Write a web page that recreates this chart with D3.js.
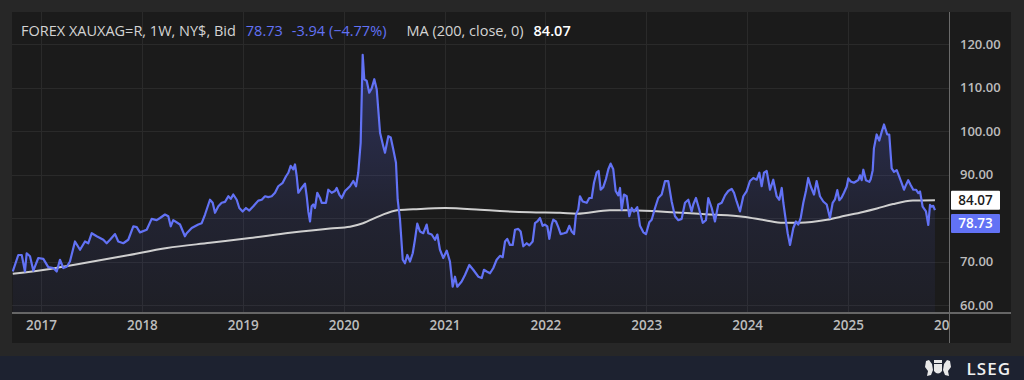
<!DOCTYPE html>
<html><head><meta charset="utf-8">
<script src="https://cdn.jsdelivr.net/npm/d3@7"></script>
<style>html,body{margin:0;padding:0;background:#272727;}svg{display:block;}</style>
</head><body>
<svg id="chart" width="1024" height="380"></svg>
<script>
// ---- DATA (decimal-year time, weekly XAU/XAG ratio) ----
const priceTime = [2016.720,2016.775,2016.809,2016.841,2016.858,2016.891,2016.924,2016.973,2017.023,2017.072,2017.122,2017.156,2017.188,2017.221,2017.255,2017.287,2017.337,2017.387,2017.436,2017.469,2017.503,2017.552,2017.618,2017.651,2017.684,2017.734,2017.766,2017.816,2017.865,2017.915,2017.949,2017.981,2018.048,2018.097,2018.147,2018.180,2018.229,2018.262,2018.286,2018.311,2018.378,2018.427,2018.444,2018.494,2018.559,2018.593,2018.626,2018.675,2018.702,2018.725,2018.758,2018.791,2018.824,2018.857,2018.881,2018.906,2018.940,2018.966,2018.999,2019.032,2019.065,2019.105,2019.154,2019.188,2019.221,2019.253,2019.287,2019.320,2019.352,2019.396,2019.429,2019.452,2019.475,2019.501,2019.518,2019.535,2019.551,2019.584,2019.617,2019.634,2019.650,2019.667,2019.683,2019.699,2019.716,2019.739,2019.766,2019.783,2019.825,2019.848,2019.882,2019.914,2019.931,2019.957,2019.981,2020.014,2020.063,2020.096,2020.123,2020.145,2020.169,2020.189,2020.205,2020.229,2020.254,2020.278,2020.304,2020.328,2020.361,2020.393,2020.410,2020.443,2020.467,2020.492,2020.519,2020.536,2020.559,2020.586,2020.608,2020.631,2020.658,2020.685,2020.707,2020.730,2020.757,2020.790,2020.823,2020.839,2020.873,2020.906,2020.929,2020.955,2020.988,2021.022,2021.054,2021.081,2021.104,2021.127,2021.170,2021.203,2021.246,2021.285,2021.335,2021.369,2021.391,2021.418,2021.451,2021.484,2021.517,2021.550,2021.577,2021.600,2021.622,2021.649,2021.676,2021.699,2021.731,2021.755,2021.781,2021.815,2021.841,2021.874,2021.897,2021.920,2021.947,2021.973,2021.996,2022.019,2022.039,2022.063,2022.078,2022.105,2022.128,2022.152,2022.184,2022.211,2022.237,2022.261,2022.284,2022.303,2022.326,2022.343,2022.370,2022.410,2022.435,2022.459,2022.482,2022.509,2022.528,2022.548,2022.574,2022.601,2022.624,2022.647,2022.673,2022.697,2022.723,2022.740,2022.756,2022.779,2022.806,2022.832,2022.856,2022.878,2022.911,2022.938,2022.971,2022.997,2023.030,2023.054,2023.087,2023.119,2023.153,2023.186,2023.218,2023.252,2023.285,2023.318,2023.351,2023.384,2023.417,2023.450,2023.466,2023.493,2023.526,2023.560,2023.592,2023.615,2023.649,2023.681,2023.714,2023.748,2023.781,2023.813,2023.847,2023.870,2023.896,2023.929,2023.962,2023.996,2024.028,2024.061,2024.095,2024.121,2024.144,2024.167,2024.194,2024.227,2024.259,2024.293,2024.319,2024.343,2024.359,2024.385,2024.402,2024.425,2024.458,2024.484,2024.507,2024.531,2024.557,2024.583,2024.606,2024.630,2024.663,2024.689,2024.722,2024.755,2024.789,2024.821,2024.848,2024.871,2024.894,2024.914,2024.937,2024.960,2024.987,2025.003,2025.027,2025.059,2025.086,2025.102,2025.119,2025.136,2025.152,2025.178,2025.211,2025.225,2025.245,2025.257,2025.284,2025.310,2025.334,2025.357,2025.389,2025.409,2025.433,2025.456,2025.483,2025.508,2025.532,2025.555,2025.575,2025.597,2025.621,2025.647,2025.674,2025.697,2025.714,2025.740,2025.773,2025.796,2025.813,2025.830,2025.845,2025.862];
const priceValue = [67.7,71.5,71.5,67.7,71.9,71.2,67.9,70.8,70.6,68.7,68.5,67.7,70.4,68.5,68.8,70.0,74.6,72.7,74.6,74.2,76.5,75.8,75.0,74.2,75.0,76.3,74.6,74.2,75.0,78.1,77.9,76.7,77.3,79.8,79.5,80.0,80.8,80.4,78.1,79.5,78.5,75.8,76.5,77.7,78.5,78.8,80.8,84.2,83.5,81.2,82.7,83.5,83.7,85.0,84.4,85.4,84.2,82.3,81.5,82.3,81.7,82.7,84.0,84.2,85.0,84.8,85.0,85.8,87.3,88.1,89.6,90.4,92.0,91.2,92.3,89.6,85.8,86.9,87.9,85.0,81.5,79.2,82.7,83.1,82.3,85.8,84.6,83.5,83.5,86.5,85.8,86.2,86.9,85.4,84.6,86.2,87.3,88.5,87.3,90.4,97.3,117.5,111.9,111.5,108.8,109.8,111.9,109.6,99.6,96.5,95.0,98.8,98.5,95.8,92.7,84.2,79.6,70.4,69.6,71.5,70.0,71.9,75.0,78.7,76.9,76.5,78.5,76.5,76.2,75.0,76.2,72.7,70.8,72.5,70.0,64.2,66.5,64.2,65.4,66.9,69.2,68.1,66.5,66.2,68.1,67.7,67.3,68.5,70.4,71.3,71.0,74.6,75.2,73.8,73.8,77.3,77.5,76.9,73.5,74.2,73.7,74.6,78.8,79.2,80.0,78.2,78.5,78.1,75.2,78.5,79.6,79.2,77.9,76.3,76.5,76.7,78.2,76.9,76.3,80.7,82.0,85.0,83.8,83.5,84.6,84.6,88.1,90.5,90.8,86.5,87.1,89.0,91.2,92.5,91.2,86.2,85.2,86.9,81.9,85.4,85.0,80.4,82.3,81.5,82.5,78.2,76.7,76.3,79.0,79.6,82.3,84.6,85.4,88.5,88.5,83.8,80.4,79.5,79.8,83.5,84.2,81.5,83.1,84.6,81.9,78.9,79.5,84.6,82.3,79.2,83.1,83.5,85.2,86.2,86.7,85.8,83.8,81.5,85.0,86.2,88.5,89.2,88.8,90.4,87.3,90.4,90.8,86.5,88.8,85.0,84.2,86.9,83.5,79.2,76.5,73.8,77.7,79.2,78.5,80.0,83.5,86.2,89.2,87.3,85.4,88.5,85.0,83.8,83.1,80.0,83.5,84.3,86.4,84.1,84.7,85.8,87.2,89.1,88.4,88.1,88.5,88.7,89.8,88.7,91.1,88.7,88.3,88.9,91.0,96.0,99.2,97.8,99.8,101.5,99.2,99.2,91.4,90.6,91.0,89.5,88.0,86.5,87.6,88.7,87.6,86.5,86.5,85.7,86.1,82.6,81.5,78.4,83.0,82.6,82.8,81.8,78.73];
const maTime = [2016.720,2017.089,2017.416,2017.833,2018.249,2018.675,2019.072,2019.468,2019.865,2020.063,2020.192,2020.361,2020.529,2020.688,2021.005,2021.352,2021.550,2021.847,2022.145,2022.313,2022.640,2022.809,2023.136,2023.632,2023.959,2024.177,2024.355,2024.524,2024.792,2024.970,2025.148,2025.287,2025.446,2025.644,2025.862];
const maValue = [67.2,68.3,69.6,71.3,73.1,74.3,75.4,76.6,77.6,78.0,78.8,80.5,81.8,82.0,82.3,81.9,81.6,81.3,81.2,81.0,81.8,81.8,81.5,80.8,80.3,79.5,78.9,78.9,79.6,80.5,81.4,82.2,83.2,84.0,84.07];
const yTicks = [60,70,80,90,100,110,120];
const xTickYears = [2017,2018,2019,2020,2021,2022,2023,2024,2025,2026];
const legendTitle = "FOREX XAUXAG=R, 1W, NY$, Bid";
const lastValue = "78.73";
const lastChange = "-3.94 (\u22124.77%)";
const maLabel = "MA (200, close, 0)";
const maLast = "84.07";

// ---- LAYOUT ----
const svg = d3.select("#chart");
const P = {left:12, top:12, right:1011, bottom:343, plotRight:949.5, axisY:313};
const x = d3.scaleLinear().domain([2017, 2025]).range([41, 848]);
const y = d3.scaleLinear().domain([60, 120]).range([305, 44]);
const BLUE = "#6272f5";
const FONT = "'Open Sans', 'Noto Sans', sans-serif";

svg.append("rect").attr("width",1024).attr("height",380).attr("fill","#272727");
svg.append("rect").attr("x",P.left).attr("y",P.top).attr("width",P.right-P.left).attr("height",P.bottom-P.top).attr("fill","#1b1b1b");
svg.append("rect").attr("x",0).attr("y",356).attr("width",1024).attr("height",24).attr("fill","#1d2230");

const defs = svg.append("defs");
defs.append("clipPath").attr("id","plotClip").append("rect")
  .attr("x",P.left).attr("y",P.top).attr("width",P.plotRight-P.left).attr("height",P.axisY-P.top);
defs.append("clipPath").attr("id","xlabClip").append("rect")
  .attr("x",P.left).attr("y",P.axisY).attr("width",P.plotRight-P.left).attr("height",P.bottom-P.axisY);
const grad = defs.append("linearGradient").attr("id","areaGrad")
  .attr("gradientUnits","userSpaceOnUse").attr("x1",0).attr("x2",0).attr("y1",y(118)).attr("y2",P.axisY);
grad.append("stop").attr("offset","0%").attr("stop-color","#5a68f0").attr("stop-opacity",0.30);
grad.append("stop").attr("offset","60%").attr("stop-color","#5a68f0").attr("stop-opacity",0.11);
grad.append("stop").attr("offset","100%").attr("stop-color","#5a68f0").attr("stop-opacity",0.05);

// gridlines
const grid = svg.append("g").attr("stroke","#2a2a2a").attr("stroke-width",1);
grid.selectAll("line.v").data(xTickYears.slice(0,-1)).join("line")
  .attr("x1",d=>Math.round(x(d))+0.5).attr("x2",d=>Math.round(x(d))+0.5)
  .attr("y1",P.top).attr("y2",P.axisY);
grid.selectAll("line.h").data(yTicks).join("line")
  .attr("x1",P.left).attr("x2",P.plotRight)
  .attr("y1",d=>Math.round(y(d))+0.5).attr("y2",d=>Math.round(y(d))+0.5);

const pts = priceTime.map((t,i)=>({t, v:priceValue[i]}));
const maPts = maTime.map((t,i)=>({t, v:maValue[i]}));
const plot = svg.append("g").attr("clip-path","url(#plotClip)");
plot.append("path").datum(pts)
  .attr("d", d3.area().x(d=>x(d.t)).y0(P.axisY).y1(d=>y(d.v)))
  .attr("fill","url(#areaGrad)");
plot.append("path").datum(maPts)
  .attr("d", d3.line().x(d=>x(d.t)).y(d=>y(d.v)).curve(d3.curveMonotoneX))
  .attr("fill","none").attr("stroke","#cfcfcf").attr("stroke-width",2);
plot.append("path").datum(pts)
  .attr("d", d3.line().x(d=>x(d.t)).y(d=>y(d.v)))
  .attr("fill","none").attr("stroke",BLUE).attr("stroke-width",2.2).attr("stroke-linejoin","round");

// axis lines
svg.append("line").attr("x1",P.left).attr("x2",P.right).attr("y1",P.axisY).attr("y2",P.axisY)
  .attr("stroke","#666666").attr("stroke-width",2);
svg.append("line").attr("x1",P.plotRight).attr("x2",P.plotRight).attr("y1",P.top).attr("y2",P.bottom)
  .attr("stroke","#6a6a6a").attr("stroke-width",1);

// right axis labels (the 80.00 label sits under the value tags in the original, so it is not drawn)
const yLabelTicks = yTicks.filter(v => Math.abs(y(v) - y(+lastValue)) > 12 && Math.abs(y(v) - y(+maLast)) > 12);
const yAxis = d3.axisRight(y).tickValues(yLabelTicks).tickFormat(d3.format(".2f")).tickSize(0).tickPadding(0);
const ya = svg.append("g").attr("transform","translate(960,0)").call(yAxis);
ya.select(".domain").remove();
ya.selectAll("text").attr("fill","#bdbdbd").attr("font-family",FONT).attr("font-size",13).attr("font-weight",600);

// x axis labels
const xAxis = d3.axisBottom(x).tickValues(xTickYears).tickFormat(d3.format("d")).tickSize(0).tickPadding(0);
const xa = svg.append("g").attr("clip-path","url(#xlabClip)").append("g").attr("transform","translate(0,320)").call(xAxis);
xa.select(".domain").remove();
xa.selectAll("text").attr("fill","#bdbdbd").attr("font-family",FONT).attr("font-size",13.5).attr("font-weight",600);

// value tags
function tag(val, bg, fg){
  const cy = y(+val);
  svg.append("rect").attr("x",951).attr("y",cy-9.5).attr("width",49).attr("height",19).attr("fill",bg).attr("rx",1);
  svg.append("text").attr("x",975.5).attr("y",cy).attr("dy","0.36em").attr("text-anchor","middle")
    .attr("fill",fg).attr("font-family",FONT).attr("font-size",13.5).attr("font-weight",600).text(val);
}
tag(maLast, "#ffffff", "#1b1b1b");
tag(lastValue, BLUE, "#ffffff");

// legend
const lg = svg.append("text").attr("x",21).attr("y",36).attr("font-family",FONT).attr("font-size",14.5);
lg.append("tspan").attr("fill","#d4d4d4").text(legendTitle);
lg.append("tspan").attr("dx",10).attr("fill",BLUE).text(lastValue);
lg.append("tspan").attr("dx",9).attr("fill",BLUE).text(lastChange);
lg.append("tspan").attr("dx",20).attr("fill","#d4d4d4").text(maLabel);
lg.append("tspan").attr("dx",10).attr("fill","#ffffff").attr("font-weight",600).text(maLast);

// LSEG logo
const logo = svg.append("g").attr("transform","translate(925,360)").attr("fill","#e8e8e8");
logo.append("path").attr("d","M9 4 L17 4 L17 11 Q13 16 9 11 Z");
logo.append("path").attr("d","M1 1 L4 0 L7 4 L8 10 L6 15 L2 16 L3 11 L0 7 Z");
logo.append("path").attr("d","M25 1 L22 0 L19 4 L18 10 L20 15 L24 16 L23 11 L26 7 Z");
logo.append("rect").attr("x",9).attr("y",0).attr("width",8).attr("height",3);
svg.append("text").attr("x",1011).attr("y",375).attr("text-anchor","end").attr("fill","#f0f0f0")
  .attr("font-family",FONT).attr("font-size",17).attr("font-weight",600).attr("letter-spacing",1).text("LSEG");
</script>
</body></html>
